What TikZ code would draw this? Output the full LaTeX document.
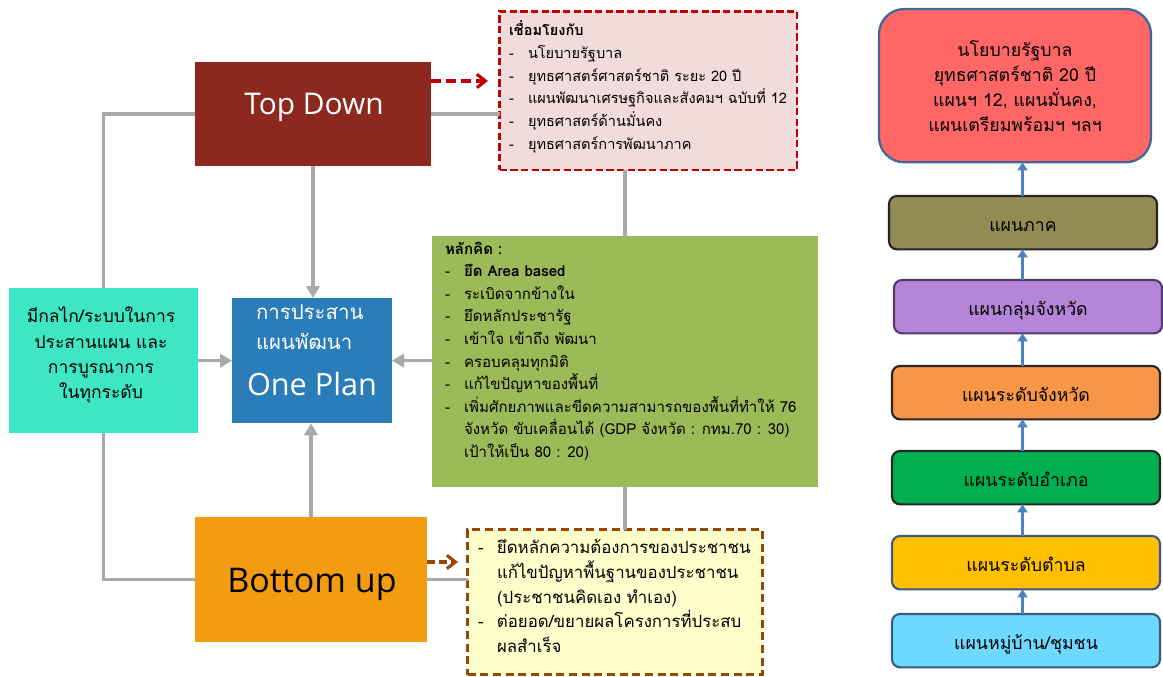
\documentclass[tikz,border=0pt]{standalone}
\usepackage{fontspec}
\setmainfont[Script=Thai]{Loma}
\newfontfamily\latf{Open Sans}
\usetikzlibrary{arrows.meta,calc}
\definecolor{cTop}{HTML}{8C281E}
\definecolor{cBlue}{HTML}{2A7DB8}
\definecolor{cCyan}{HTML}{3EE6C4}
\definecolor{cGreen}{HTML}{9BBB59}
\definecolor{cOrange}{HTML}{F39C12}
\definecolor{cPink}{HTML}{F2DBDB}
\definecolor{cRed}{HTML}{C00000}
\definecolor{cYellow}{HTML}{FFFFCC}
\definecolor{cBrown}{HTML}{974806}
\definecolor{cGray}{HTML}{A9A9A9}
\definecolor{cArrow}{HTML}{4F81BD}
\definecolor{cEdge}{HTML}{3F6797}
\definecolor{rRed}{HTML}{FF6666}
\definecolor{rOlive}{HTML}{948A54}
\definecolor{rPurple}{HTML}{B585D9}
\definecolor{rOrange}{HTML}{F79646}
\definecolor{rGreen}{HTML}{00B050}
\definecolor{rYellow}{HTML}{FFC000}
\definecolor{rBlue}{HTML}{6ED9FF}
\definecolor{eDark}{HTML}{262626}
\definecolor{ePurple}{HTML}{503C6E}
\definecolor{eBlue}{HTML}{3C5A82}
\newcommand{\bx}[1]{\makebox[14.25pt][l]{-}#1}
\newcommand{\ind}{\hspace*{14.25pt}}
\newcommand{\sz}[2]{\fontsize{#1}{#2}\selectfont}
\tikzset{
 x=0.75pt,y=-0.75pt,
 flat/.style={inner sep=0,outer sep=0,draw=none},
 txt/.style={inner sep=0,outer sep=0,align=left,anchor=north west,text=black},
 ctr/.style={inner sep=0,outer sep=0,align=center,text=black},
 link/.style={draw=cGray,line width=2.6pt},
 linka/.style={link,-{Triangle[length=9pt,width=10pt]}},
 lvl/.style={rounded corners=6pt,draw=eDark,line width=1.6pt,minimum width=201pt,minimum height=40pt,inner sep=0,outer sep=0,font=\sz{13.3}{16},text height=15.8pt,text depth=2pt,anchor=north west},
 up/.style={draw=cArrow,line width=2.2pt,-{Triangle[length=6pt,width=7.5pt]}},
 dasharrow/.style={line width=2.3pt,-{Straight Barb[length=6.5pt,width=10pt,line width=2.3pt]}},
}
\begin{document}
\begin{tikzpicture}
\useasboundingbox (0,0) rectangle (1163,677);
% left group boxes
\node[flat,fill=cTop,minimum width=177pt,minimum height=78pt,anchor=north west] (top) at (195,62) {};
\node[flat,fill=cOrange,minimum width=174pt,minimum height=94pt,anchor=north west] (bottom) at (195,517) {};
\node[flat,fill=cCyan,minimum width=142pt,minimum height=109pt,anchor=north west] (cyan) at (9,288) {};
\node[flat,fill=cBlue,minimum width=120pt,minimum height=94pt,anchor=north west] (plan) at (232,298) {};
\node[flat,fill=cGreen,minimum width=289.5pt,minimum height=188pt,anchor=north west] (idea) at (432,236) {};
\node[fill=cPink,draw=cRed,line width=2pt,dash pattern=on 5.5pt off 2.5pt,inner sep=0,outer sep=0,minimum width=223pt,minimum height=119pt,anchor=north west] (pink) at (499.5,11.5) {};
\node[fill=cYellow,draw=cBrown,line width=2.2pt,dash pattern=on 6pt off 3.5pt,inner sep=0,outer sep=0,minimum width=221pt,minimum height=109pt,anchor=north west] (yel) at (467.5,529.5) {};
% connectors
\draw[link] (top.west) -| (cyan.north);
\draw[link] (bottom.west) -| (cyan.south);
\draw[linka] (top.south) -- (top.south |- plan.north);
\draw[linka] (cyan.east) -- (plan.west);
\draw[linka] (idea.west |- plan.east) -- (plan.east);
\draw[linka] (bottom.north) -- (bottom.north |- plan.south);
\draw[link] (top.east) -- (top.east -| pink.west);
\draw[link] (bottom.east) -- (bottom.east -| yel.west);
\draw[link] (pink.south -| idea.north) -- (idea.north);
\draw[link] (idea.south) -- (idea.south |- yel.north);
\coordinate (dr) at ($(top.north east)+(0,19)$);
\coordinate (db) at ($(bottom.north east)+(0,45)$);
\coordinate (drend) at (488,81);
\coordinate (dbend) at (458,562);
\draw[dasharrow,draw=cRed,dash pattern=on 7.5pt off 3.75pt] (dr) -- (drend);
\draw[dasharrow,draw=cBrown,dash pattern=on 6pt off 3pt] (db) -- (dbend);
% left texts
\node[ctr,text=white,font=\latf\sz{22.4}{26}] (toptxt) at (314,107) {Top Down};
\node[ctr,font=\latf\sz{25.5}{30}] (bottxt) at (312,584) {Bottom up};
\node[ctr,font=\sz{13.1}{18.8}] (cyantxt) at (101,355) {มีกลไก/ระบบในการ\\ประสานแผน และ\\การบูรณาการ\\ในทุกระดับ};
\node[txt,text=white,font=\sz{15.3}{22.5}] (plantxt) at (256,305) {การประสาน\\แผนพัฒนา};
\node[ctr,text=white,font=\latf\sz{23}{26}] (onetxt) at (312,384) {One Plan};
\node[txt,font=\sz{10.9}{17}] (pinktxt) at (509,21) {\textbf{เชื่อมโยงกับ}\\\bx{นโยบายรัฐบาล}\\\bx{ยุทธศาสตร์ศาสตร์ชาติ ระยะ 20 ปี}\\\bx{แผนพัฒนาเศรษฐกิจและสังคมฯ ฉบับที่ 12}\\\bx{ยุทธศาสตร์ด้านมั่นคง}\\\bx{ยุทธศาสตร์การพัฒนาภาค}};
\node[txt,font=\sz{11.3}{16.9}] (ideatxt) at (445,242) {\textbf{หลักคิด :}\\\bx{\textbf{ยึด Area based}}\\\bx{ระเบิดจากข้างใน}\\\bx{ยึดหลักประชารัฐ}\\\bx{เข้าใจ เข้าถึง พัฒนา}\\\bx{ครอบคลุมทุกมิติ}\\\bx{แก้ไขปัญหาของพื้นที่}\\\bx{เพิ่มศักยภาพและขีดความสามารถของพื้นที่ทำให้ 76}\\\ind จังหวัด ขับเคลื่อนได้ (GDP จังหวัด : กทม.70 : 30)\\\ind เป้าให้เป็น 80 : 20)};
\node[txt,font=\sz{12.6}{18.6}] (yeltxt) at (478,539.5) {\bx{ยึดหลักความต้องการของประชาชน}\\\ind แก้ไขปัญหาพื้นฐานของประชาชน\\\ind (ประชาชนคิดเอง ทำเอง)\\\bx{ต่อยอด/ขยายผลโครงการที่ประสบ}\\\ind ผลสำเร็จ};
% right column
\node[rounded corners=19pt,fill=rRed,draw=cEdge,line width=1.7pt,minimum width=204pt,minimum height=115pt,inner sep=0,outer sep=0,align=center,anchor=north west,font=\sz{13.3}{18.7}] (r0) at (879,9) {นโยบายรัฐบาล\\ยุทธศาสตร์ชาติ 20 ปี\\แผนฯ 12, แผนมั่นคง,\\แผนเตรียมพร้อมฯ ฯลฯ};
\node[lvl,fill=rOlive] (r1) at (889,196) {แผนภาค};
\node[lvl,fill=rPurple,draw=ePurple] (r2) at (894,280) {แผนกลุ่มจังหวัด};
\node[lvl,fill=rOrange] (r3) at (892,366) {แผนระดับจังหวัด};
\node[lvl,fill=rGreen] (r4) at (892,451) {แผนระดับอำเภอ};
\node[lvl,fill=rYellow,draw=eBlue] (r5) at (892,536) {แผนระดับตำบล};
\node[lvl,fill=rBlue,draw=eBlue] (r6) at (892,614) {แผนหมู่บ้าน/ชุมชน};
\coordinate (ax) at (1022.5,0);
\draw[up] (r1.north -| ax) -- (r0.south -| ax);
\draw[up] (r2.north -| ax) -- (r1.south -| ax);
\draw[up] (r3.north -| ax) -- (r2.south -| ax);
\draw[up] (r4.north -| ax) -- (r3.south -| ax);
\draw[up] (r5.north -| ax) -- (r4.south -| ax);
\draw[up] (r6.north -| ax) -- (r5.south -| ax);
\end{tikzpicture}
\end{document}
